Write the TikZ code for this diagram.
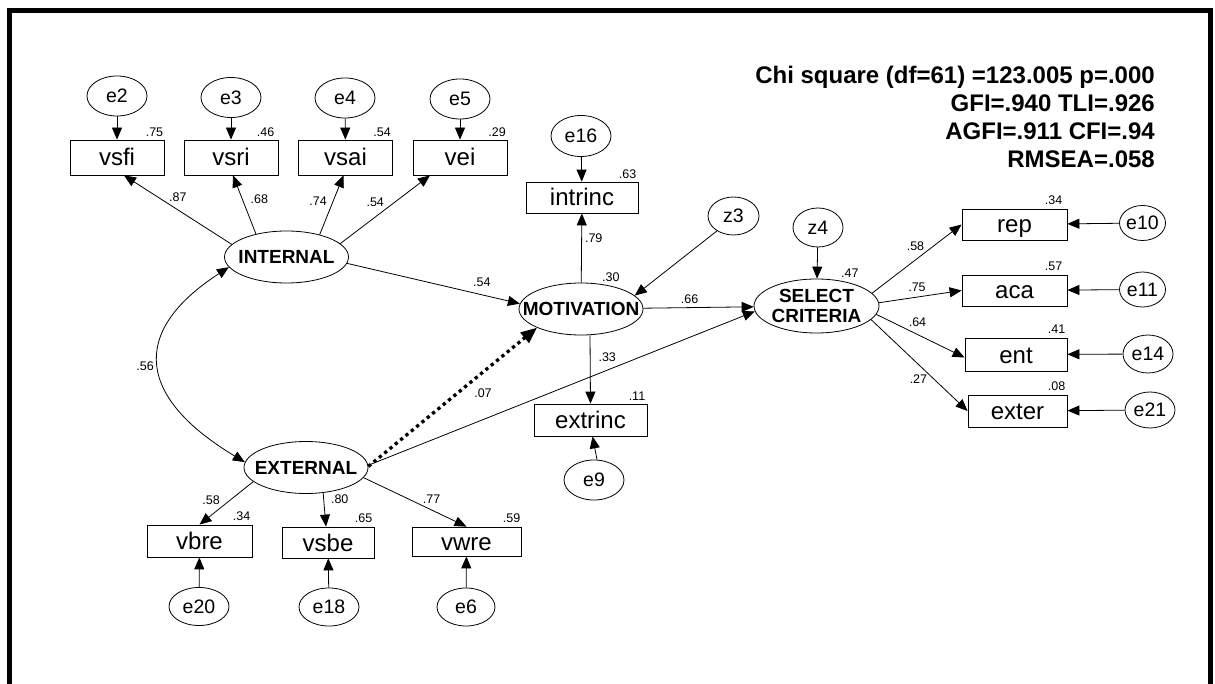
\documentclass[tikz,border=0pt]{standalone}
\usepackage{fontspec}
\setmainfont{Liberation Sans}
\usetikzlibrary{shapes.geometric, arrows.meta}

\begin{document}
\begin{tikzpicture}[
  x=1pt, y=1pt,
  obs/.style={rectangle, draw, line width=0.8pt, inner sep=0pt, minimum width=#1, minimum height=32pt, text height=17pt, text depth=0pt, font=\fontsize{24}{24}\selectfont},
  lat/.style={ellipse, draw, line width=0.8pt, inner sep=0pt, minimum width=124pt, minimum height=52pt, font=\bfseries\fontsize{19}{20}\selectfont},
  err/.style={ellipse, draw, line width=0.8pt, inner sep=0pt, minimum width=60pt, minimum height=40pt, font=\fontsize{19.5}{19.5}\selectfont},
  coef/.style={inner sep=1pt, font=\fontsize{12.5}{12.5}\selectfont},
  rsq/.style={inner sep=0pt, anchor=south east, font=\fontsize{12.5}{12.5}\selectfont},
  stats/.style={align=right, inner sep=0pt, font=\bfseries\fontsize{24}{28}\selectfont},
  arr/.style={-{Triangle[length=12pt, width=10pt]}, line width=0.8pt},
  corr/.style={{Triangle[length=12pt, width=10pt]}-{Triangle[length=12pt, width=10pt]}, line width=0.8pt},
  nsarr/.style={-{Triangle[length=16pt, width=13pt]}, line width=3.3pt, dash pattern=on 3.3pt off 3.6pt}
]
\useasboundingbox (0,0) rectangle (1215,-684);

% ---------- Frame ----------
\draw[line width=4.5pt] (9.5,-684) -- (9.5,-10.5) -- (1210.5,-10.5) -- (1210.5,-684);

% ---------- Fit indices ----------
\node[stats, anchor=north east] (fitidx) at (1155,-66) {Chi square (df=61) =123.005 p=.000\\GFI=.940 TLI=.926\\AGFI=.911 CFI=.94\\RMSEA=.058};

% ---------- Latent variables ----------
\node[lat] (int) at (286.5,-257) {\makebox[0pt]{INTERNAL}};
\node[lat] (ext) at (306,-467.5) {\makebox[0pt]{EXTERNAL}};
\node[lat] (mot) at (581,-309) {\makebox[0pt]{MOTIVATION}};
\node[lat, minimum width=125pt, minimum height=54pt, align=center] (sel) at (816.5,-306) {\makebox[0pt]{SELECT}\\\makebox[0pt]{CRITERIA}};

% ---------- INTERNAL indicators ----------
\node[obs=94pt, minimum height=35pt] (vsfi) at (117,-157.5) {vsfi};
\node[obs=94pt, minimum height=35pt] (vsri) at (231,-157.5) {vsri};
\node[obs=94pt, minimum height=35pt] (vsai) at (345.5,-157.5) {vsai};
\node[obs=94pt, minimum height=35pt] (vei) at (460,-157.5) {vei};
\node[err] (e2) at (117,-96) {e2};
\node[err] (e3) at (231,-97.5) {e3};
\node[err] (e4) at (345,-98) {e4};
\node[err] (e5) at (460,-99) {e5};

% ---------- EXTERNAL indicators ----------
\node[obs=105pt] (vbre) at (199.5,-541) {vbre};
\node[obs=92pt, minimum height=31pt] (vsbe) at (328,-542.5) {vsbe};
\node[obs=109pt, minimum height=29pt] (vwre) at (466.5,-541.5) {vwre};
\node[err, minimum height=38pt] (e20) at (199,-606.5) {e20};
\node[err, minimum height=38pt] (e18) at (329,-607) {e18};
\node[err, minimum width=58pt, minimum height=38pt] (e6) at (466,-607) {e6};

% ---------- MOTIVATION indicators ----------
\node[obs=112pt, minimum height=31pt] (intrinc) at (582,-197.5) {intrinc};
\node[obs=113pt] (extrinc) at (590.5,-420) {extrinc};
\node[err, minimum height=41pt] (e16) at (581,-136) {e16};
\node[err] (e9) at (594,-480) {e9};
\node[err, minimum width=51pt, minimum height=38pt] (z3) at (733.5,-216) {z3};
\node[err, minimum width=50pt, minimum height=39pt] (z4) at (818,-227.5) {z4};

% ---------- SELECT CRITERIA indicators ----------
\node[obs=105pt, minimum height=31pt] (rep) at (1014.5,-224.5) {rep};
\node[obs=105pt, minimum height=31pt] (aca) at (1014.5,-290.5) {aca};
\node[obs=102pt, minimum height=33pt] (ent) at (1016,-354.5) {ent};
\node[obs=99pt] (exter) at (1017.5,-411) {exter};
\node[err, minimum width=46pt, minimum height=35pt] (e10) at (1142.5,-223) {e10};
\node[err, minimum width=46pt, minimum height=35pt] (e11) at (1142.5,-289.5) {e11};
\node[err, minimum width=50pt, minimum height=38pt] (e14) at (1148,-354) {e14};
\node[err, minimum width=50pt, minimum height=36pt] (e21) at (1150,-410) {e21};

% ---------- Squared multiple correlations ----------
\node[rsq] (r2vsfi) at ([shift={(-1,3)}]vsfi.north east) {.75};
\node[rsq] (r2vsri) at ([shift={(-4,3)}]vsri.north east) {.46};
\node[rsq] (r2vsai) at ([shift={(-2,3)}]vsai.north east) {.54};
\node[rsq] (r2vei) at ([shift={(-1.5,3)}]vei.north east) {.29};
\node[rsq] (r2intrinc) at ([shift={(-2,3)}]intrinc.north east) {.63};
\node[rsq] (r2extrinc) at ([shift={(-2,3)}]extrinc.north east) {.11};
\node[rsq] (r2vbre) at ([shift={(-2,4)}]vbre.north east) {.34};
\node[rsq] (r2vsbe) at ([shift={(-2,4)}]vsbe.north east) {.65};
\node[rsq] (r2vwre) at ([shift={(-1,4)}]vwre.north east) {.59};
\node[rsq] (r2rep) at ([shift={(-5,4)}]rep.north east) {.34};
\node[rsq] (r2aca) at ([shift={(-5,4)}]aca.north east) {.57};
\node[rsq] (r2ent) at ([shift={(-2,4)}]ent.north east) {.41};
\node[rsq] (r2exter) at ([shift={(-2,4)}]exter.north east) {.08};
\node[rsq, anchor=south west] (r2mot) at ([shift={(21,1)}]mot.north) {.30};
\node[rsq, anchor=south west] (r2sel) at ([shift={(24.5,1)}]sel.north) {.47};

% ---------- Error arrows ----------
\draw[arr] (e2) -- (vsfi);
\draw[arr] (e3) -- (vsri);
\draw[arr] (e4) -- (vsai);
\draw[arr] (e5) -- (vei);
\draw[arr] (e16) -- (intrinc);
\draw[arr] ([xshift=3pt]e9.north) -- ([xshift=2pt]extrinc.south);
\draw[arr] (e20) -- (vbre);
\draw[arr] (e18) -- (vsbe);
\draw[arr] (e6) -- (vwre);
\draw[arr] (e10) -- (rep);
\draw[arr] (e11) -- (aca);
\draw[arr] (e14) -- (ent);
\draw[arr] (e21) -- (exter);
\draw[arr] (z3.222) -- (mot.14);
\draw[arr] (z4) -- (sel);

% ---------- Loadings ----------
\draw[arr] (int.167) -- node[coef, above=7pt] {.87} ([xshift=7pt]vsfi.south);
\draw[arr] (int.143) -- node[coef, pos=.6, right=7pt] {.68} ([xshift=2pt]vsri.south);
\draw[arr] (int.34.5) -- node[coef, pos=.57, left=5pt] {.74} ([xshift=-2pt]vsai.south);
\draw[arr] (int.14) -- node[coef, pos=.39, above=9pt] {.54} ([xshift=-30pt]vei.south);
\draw[arr] (ext.195) -- node[coef, pos=.43, left=9pt] {.58} (vbre.north);
\draw[arr] (ext.-56) -- node[coef, pos=.19, right=6pt] {.80} ([xshift=-2pt]vsbe.north);
\draw[arr] (ext.-10) -- node[coef, pos=.66, above=5pt] {.77} (vwre.north);
\draw[arr] (mot) -- node[coef, pos=.64, right=2pt] {.79} (intrinc);
\draw[arr] ([xshift=9pt]mot.south) -- node[coef, pos=.32, right=7pt] {.33} (extrinc.north);
\draw[arr] (sel.13) -- node[coef, pos=.485, above=7.5pt] {.58} (rep.west);
\draw[arr] (sel.3) -- node[coef, pos=.46, above=4pt] {.75} (aca.west);
\draw[arr] (sel.-8) -- node[coef, pos=.466, above=6.5pt] {.64} ([yshift=-3pt]ent.west);
\draw[arr] (sel.-14) -- node[coef, pos=.647, left=5pt] {.27} (exter.west);

% ---------- Structural paths ----------
\draw[corr] (int.190) to[out=213, in=149, looseness=1.6] node[coef, left=4pt] {.56} (ext.175);
\draw[arr] (int.-6) -- node[coef, pos=.78, above=7pt] {.54} (mot.175);
\draw[nsarr] (ext.1) -- node[coef, pos=.68, below=14pt] {.07} (mot.203);
\draw[arr] (ext.2) -- (sel.185);
\draw[arr] (mot) -- node[coef, pos=.42, above=3pt] {.66} (sel);

\end{tikzpicture}
\end{document}
